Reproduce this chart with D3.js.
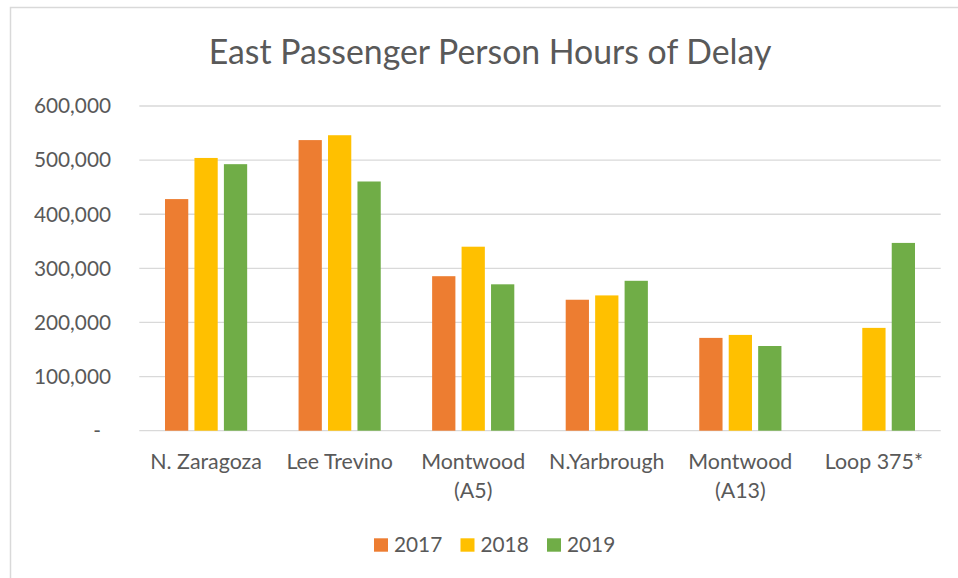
<!DOCTYPE html>
<html>
<head>
<meta charset="utf-8">
<script src="https://cdn.jsdelivr.net/npm/d3@7"></script>
<style>
  body { margin: 0; background: #fff; }
  svg { display: block; font-family: Lato, "Open Sans", sans-serif; }
</style>
</head>
<body>
<svg id="chart"></svg>
<script>
const categories = ["N. Zaragoza", "Lee Trevino", "Montwood (A5)", "N.Yarbrough", "Montwood (A13)", "Loop 375*"];
const categoryLines = [["N. Zaragoza"], ["Lee Trevino"], ["Montwood", "(A5)"], ["N.Yarbrough"], ["Montwood", "(A13)"], ["Loop 375*"]];
const years = ["2017", "2018", "2019"];
const values2017 = [428000, 537000, 285500, 242000, 171500, null];
const values2018 = [504000, 546000, 340000, 250000, 177000, 190000];
const values2019 = [492500, 460500, 270500, 277000, 156500, 347000];
const yTicks = [0, 100000, 200000, 300000, 400000, 500000, 600000];
const colors = ["#ED7D31", "#FFC000", "#70AD47"];

const WIDTH = 958, HEIGHT = 578;
const PLOT = { left: 139.3, right: 940.7, top: 106, bottom: 430.7 };
const TEXT = "#595959", GRID = "#d9d9d9";

const svg = d3.select("#chart").attr("width", WIDTH).attr("height", HEIGHT);

// chart border
svg.append("rect")
  .attr("x", 10.5).attr("y", 7.5)
  .attr("width", 960).attr("height", 600)
  .attr("fill", "none").attr("stroke", GRID).attr("stroke-width", 1.5);

svg.append("text")
  .attr("x", 490).attr("y", 63.5)
  .attr("text-anchor", "middle")
  .attr("font-size", 33.8)
  .attr("fill", TEXT)
  .text("East Passenger Person Hours of Delay");

const y = d3.scaleLinear([0, 600000], [PLOT.bottom, PLOT.top]);
const x0 = d3.scaleBand(categories, [PLOT.left, PLOT.right]);
const groupPad = 25.7;
const x1 = d3.scaleBand(years, [groupPad, x0.bandwidth() - groupPad]).paddingInner(0.21);

// gridlines
svg.append("g")
  .selectAll("line")
  .data(yTicks)
  .join("line")
  .attr("x1", PLOT.left).attr("x2", PLOT.right)
  .attr("y1", d => y(d)).attr("y2", d => y(d))
  .attr("stroke", GRID).attr("stroke-width", 1.3);

// y tick labels
const fmt = d3.format(",");
svg.append("g")
  .selectAll("text")
  .data(yTicks)
  .join("text")
  .attr("x", d => d === 0 ? 97 : 111)
  .attr("y", d => y(d))
  .attr("dy", "0.35em")
  .attr("text-anchor", d => d === 0 ? "middle" : "end")
  .attr("font-size", 20.8)
  .attr("fill", TEXT)
  .text(d => d === 0 ? "-" : fmt(d));

// bars
const series = [values2017, values2018, values2019];
const groups = svg.append("g")
  .selectAll("g")
  .data(categories)
  .join("g")
  .attr("transform", c => `translate(${x0(c)},0)`);

groups.selectAll("rect")
  .data((c, i) => years.map((yr, k) => ({ year: yr, value: series[k][i], color: colors[k] })).filter(d => d.value != null))
  .join("rect")
  .attr("x", d => x1(d.year))
  .attr("width", x1.bandwidth())
  .attr("y", d => y(d.value))
  .attr("height", d => y(0) - y(d.value))
  .attr("fill", d => d.color);

// category labels
svg.append("g")
  .selectAll("text")
  .data(categories)
  .join("text")
  .attr("x", c => x0(c) + x0.bandwidth() / 2)
  .attr("y", 469.3)
  .attr("text-anchor", "middle")
  .attr("font-size", 21.4)
  .attr("fill", TEXT)
  .each(function(c, i) {
    d3.select(this).selectAll("tspan")
      .data(categoryLines[i])
      .join("tspan")
      .attr("x", x0(c) + x0.bandwidth() / 2)
      .attr("dy", (d, j) => j === 0 ? 0 : 29)
      .text(d => d);
  });

// legend
const legend = svg.append("g")
  .selectAll("g")
  .data(years)
  .join("g")
  .attr("transform", (d, i) => `translate(${374 + i * 86.5},538.3)`);
legend.append("rect")
  .attr("width", 14).attr("height", 13.4)
  .attr("fill", (d, i) => colors[i]);
legend.append("text")
  .attr("x", 20).attr("y", 13.4)
  .attr("font-size", 20.8)
  .attr("fill", TEXT)
  .text(d => d);
</script>
</body>
</html>
